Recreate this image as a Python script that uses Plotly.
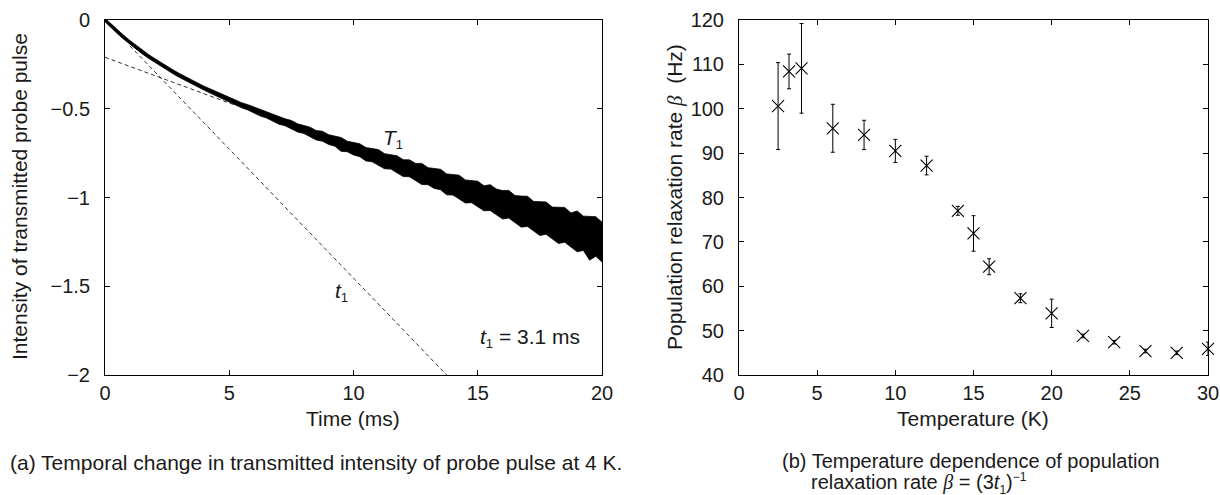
import plotly.graph_objects as go

# ---------------- data: panel (a) ----------------
time_ms = [0, 0.25, 0.5, 0.75, 1.0, 1.25, 1.5, 1.75, 2.0, 2.25, 2.5, 2.75, 3.0, 3.25, 3.5, 3.75,
           4.0, 4.25, 4.5, 4.75, 5.0, 5.25, 5.5, 5.75, 6.0, 6.25, 6.5, 6.75, 7.0, 7.25, 7.5, 7.75,
           8.0, 8.25, 8.5, 8.75, 9.0, 9.25, 9.5, 9.75, 10.0, 10.25, 10.5, 10.75, 11.0, 11.25, 11.5,
           11.75, 12.0, 12.25, 12.5, 12.75, 13.0, 13.25, 13.5, 13.75, 14.0, 14.25, 14.5, 14.75, 15.0,
           15.25, 15.5, 15.75, 16.0, 16.25, 16.5, 16.75, 17.0, 17.25, 17.5, 17.75, 18.0, 18.25, 18.5,
           18.75, 19.0, 19.25, 19.5, 19.75, 20.0]
intensity_mid = [0, -0.034, -0.066, -0.097, -0.126, -0.154, -0.180, -0.205, -0.228, -0.251, -0.272,
                 -0.293, -0.313, -0.332, -0.350, -0.368, -0.385, -0.401, -0.418, -0.433, -0.449,
                 -0.464, -0.479, -0.493, -0.508, -0.522, -0.536, -0.550, -0.564, -0.577, -0.591,
                 -0.604, -0.618, -0.631, -0.645, -0.658, -0.671, -0.684, -0.698, -0.711, -0.724,
                 -0.737, -0.750, -0.763, -0.776, -0.788, -0.801, -0.814, -0.827, -0.840, -0.853,
                 -0.866, -0.879, -0.891, -0.904, -0.917, -0.930, -0.943, -0.956, -0.969, -0.982,
                 -0.994, -1.007, -1.020, -1.033, -1.046, -1.059, -1.072, -1.085, -1.097, -1.110,
                 -1.123, -1.136, -1.149, -1.162, -1.175, -1.188, -1.200, -1.213, -1.226, -1.239]
# spread of the noisy trace above / below its middle
noise_up = [0.010, 0.011, 0.011, 0.011, 0.011, 0.011, 0.011, 0.011, 0.011, 0.011, 0.011, 0.011,
            0.011, 0.011, 0.011, 0.011, 0.011,
            0.012, 0.013, 0.012, 0.014, 0.015, 0.013, 0.016, 0.018, 0.015, 0.017, 0.021, 0.018,
            0.020, 0.025, 0.019, 0.024, 0.027, 0.022, 0.031, 0.025, 0.029, 0.036, 0.028, 0.034,
            0.040, 0.031, 0.038, 0.046, 0.035, 0.044, 0.049, 0.040, 0.052, 0.045, 0.058, 0.047,
            0.055, 0.063, 0.050, 0.060, 0.069, 0.055, 0.066, 0.074, 0.060, 0.079, 0.068, 0.072,
            0.086, 0.070, 0.080, 0.092, 0.075, 0.088, 0.098, 0.082, 0.095, 0.106, 0.088, 0.112,
            0.095, 0.105, 0.118, 0.100]
noise_down = [0.010, 0.011, 0.011, 0.011, 0.011, 0.011, 0.011, 0.011, 0.011, 0.011, 0.011, 0.011,
              0.011, 0.011, 0.011, 0.011, 0.011,
              0.012, 0.012, 0.014, 0.013, 0.014, 0.016, 0.014, 0.016, 0.019, 0.016, 0.019, 0.023,
              0.019, 0.022, 0.027, 0.021, 0.026, 0.031, 0.025, 0.030, 0.027, 0.042, 0.031, 0.036,
              0.033, 0.044, 0.036, 0.041, 0.050, 0.039, 0.046, 0.055, 0.043, 0.052, 0.061, 0.049,
              0.058, 0.052, 0.068, 0.056, 0.064, 0.075, 0.060, 0.070, 0.081, 0.066, 0.078, 0.088,
              0.070, 0.084, 0.095, 0.078, 0.090, 0.104, 0.084, 0.096, 0.110, 0.090, 0.104, 0.118,
              0.098, 0.140, 0.105, 0.125]

fast_fit_t = [1.0, 13.75]
fast_fit_y = [-0.1455, -2.0]
slow_fit_t = [0.0, 5.3]
slow_fit_y = [-0.21, -0.483]

# ---------------- data: panel (b) ----------------
temperature_K = [2.5, 3.2, 4, 6, 8, 10, 12, 14, 15, 16, 18, 20, 22, 24, 26, 28, 30]
beta_Hz = [100.6, 108.4, 109.1, 95.6, 94.1, 90.5, 87.2, 77.0, 71.9, 64.4, 57.3, 53.9, 48.8,
           47.4, 45.4, 45.0, 45.9]
beta_err = [9.8, 3.9, 10.1, 5.4, 3.3, 2.6, 2.1, 1.0, 4.0, 1.8, 1.0, 3.2, 0.4, 0.4, 0.4, 0.4, 1.5]

assert len(time_ms) == len(intensity_mid) == len(noise_up) == len(noise_down)

W, H = 1220, 495
FONT = "Liberation Sans"
TXT = "#1a1a1a"
FT = 20   # tick labels
FL = 21   # titles / captions

def px_x(p):
    return p / W

def px_y(p):
    return 1 - p / H

def small(s, size=13):
    return f"<span style='font-size:{size}px'>{s}</span>"

BETA = "<i><span style='font-family:Liberation Serif'>β</span></i>"

upper = [m + u for m, u in zip(intensity_mid, noise_up)]
lower = [m - d for m, d in zip(intensity_mid, noise_down)]

fig = go.Figure()
fig.add_trace(go.Scatter(x=time_ms, y=upper, mode="lines", line=dict(color="black", width=0.8),
                         xaxis="x", yaxis="y", showlegend=False, hoverinfo="skip"))
fig.add_trace(go.Scatter(x=time_ms, y=lower, mode="lines", line=dict(color="black", width=0.8),
                         fill="tonexty", fillcolor="black",
                         xaxis="x", yaxis="y", showlegend=False, hoverinfo="skip"))
fig.add_trace(go.Scatter(x=fast_fit_t, y=fast_fit_y, mode="lines",
                         line=dict(color="black", width=0.8, dash="4px,3px"),
                         xaxis="x", yaxis="y", showlegend=False))
fig.add_trace(go.Scatter(x=slow_fit_t, y=slow_fit_y, mode="lines",
                         line=dict(color="black", width=0.8, dash="4px,3px"),
                         xaxis="x", yaxis="y", showlegend=False))

fig.add_trace(go.Scatter(x=temperature_K, y=beta_Hz, mode="markers",
                         marker=dict(symbol="x-thin-open", size=12, color="black",
                                     line=dict(color="black", width=1.1)),
                         error_y=dict(type="data", array=beta_err, visible=True, color="black",
                                      thickness=1, width=2),
                         cliponaxis=False,
                         xaxis="x2", yaxis="y2", showlegend=False))

ax_common = dict(showline=True, linecolor="black", linewidth=1, mirror="ticks",
                 ticks="inside", ticklen=5, tickcolor="black", tickwidth=1,
                 showgrid=False, zeroline=False, automargin=False,
                 tickfont=dict(family=FONT, size=FT, color=TXT))

ydom = [px_y(375), px_y(20)]
fig.update_layout(
    template="none",
    width=W, height=H,
    margin=dict(l=0, r=0, t=0, b=0, pad=0),
    paper_bgcolor="white", plot_bgcolor="white",
    font=dict(family=FONT, size=FT, color=TXT),
    xaxis=dict(domain=[px_x(105), px_x(602)], range=[0, 20], tickvals=[0, 5, 10, 15, 20],
               anchor="y", ticklabelstandoff=0, **ax_common),
    yaxis=dict(domain=ydom, range=[-2, 0], tickvals=[0, -0.5, -1, -1.5, -2],
               anchor="x", ticklabelstandoff=10, **ax_common),
    xaxis2=dict(domain=[px_x(739), px_x(1208)], range=[0, 30], tickvals=[0, 5, 10, 15, 20, 25, 30],
                anchor="y2", ticklabelstandoff=0, **ax_common),
    yaxis2=dict(domain=ydom, range=[40, 120], tickvals=[40, 50, 60, 70, 80, 90, 100, 110, 120],
                anchor="x2", ticklabelstandoff=10, **ax_common),
)

ann = []
def A(text, x, y, size=FL, xanchor="center", **kw):
    d = dict(text=text, x=x, y=y, xref="paper", yref="paper", showarrow=False,
             xanchor=xanchor, yanchor="middle",
             font=dict(family=FONT, size=size, color=TXT))
    d.update(kw)
    ann.append(d)

A("Intensity of transmitted probe pulse", px_x(19), px_y(197), textangle=-90)
A("Time (ms)", px_x(353), px_y(418))
A(f"Population relaxation rate {BETA}  (Hz)", px_x(675), px_y(197), textangle=-90)
A("Temperature (K)", px_x(973), px_y(418))
A("(a) Temporal change in transmitted intensity of probe pulse at 4 K.", px_x(8), px_y(462),
  xanchor="left")
A("(b) Temperature dependence of population", px_x(780), px_y(461), size=20, xanchor="left")
A(f"relaxation rate {BETA} = (3<i>t</i><sub>{small('1', 12)}</sub>)<sup>{small('−1', 12)}</sup>",
  px_x(809), px_y(483), size=20, xanchor="left")
fig.update_layout(annotations=ann)

# in-plot labels of panel (a), placed in data coordinates
fig.add_annotation(text=f"<i>T</i><sub>{small('1')}</sub>", x=11.6, y=-0.67, xref="x", yref="y",
                   xanchor="center", yanchor="middle",
                   showarrow=False, font=dict(family=FONT, size=FL, color=TXT))
fig.add_annotation(text=f"<i>t</i><sub>{small('1')}</sub>", x=9.5, y=-1.53, xref="x", yref="y",
                   xanchor="center", yanchor="middle",
                   showarrow=False, font=dict(family=FONT, size=FL, color=TXT))
fig.add_annotation(text=f"<i>t</i><sub>{small('1')}</sub> = 3.1 ms", x=15.0, y=-1.79,
                   xref="x", yref="y", xanchor="left", yanchor="middle",
                   showarrow=False, font=dict(family=FONT, size=FL, color=TXT))

fig.write_html(
    "out.html",
    config={"displayModeBar": False},
    post_script="document.body.style.margin='0';document.documentElement.style.overflow='hidden';",
)
